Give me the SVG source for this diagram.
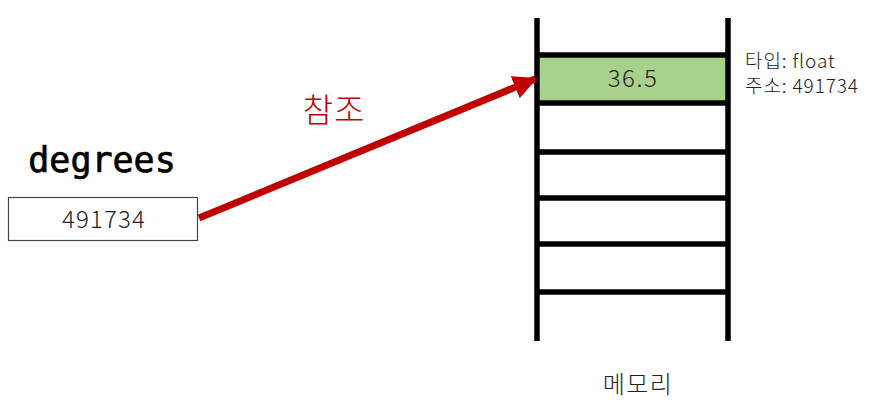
<svg xmlns="http://www.w3.org/2000/svg" width="874" height="412" viewBox="0 0 874 412">
<defs>
<marker id="ah" viewBox="0 0 10 10" refX="9" refY="5" markerWidth="3.4" markerHeight="3.4" orient="auto" markerUnits="strokeWidth">
<path d="M0,0 L10,5 L0,10 z" fill="#c00000"/>
</marker>
<style>
.t{font-family:"Noto Sans CJK KR","Noto Sans",sans-serif;fill:#222;font-weight:300;}
.m{stroke:#000;stroke-width:5.5;fill:none;}
</style>
</defs>
<rect width="874" height="412" fill="#fff"/>
<g id="memory">
<rect x="537" y="57" width="191" height="46" fill="#a9d18e"/>
<line class="m" x1="537" y1="18" x2="537" y2="341"/>
<line class="m" x1="728" y1="18" x2="728" y2="341"/>
<line class="m" x1="537" y1="55" x2="728" y2="55"/>
<line class="m" x1="537" y1="103" x2="728" y2="103"/>
<line class="m" x1="537" y1="152" x2="728" y2="152"/>
<line class="m" x1="537" y1="198" x2="728" y2="198"/>
<line class="m" x1="537" y1="244" x2="728" y2="244"/>
<line class="m" x1="537" y1="292" x2="728" y2="292"/>
<text class="t" x="633" y="87" font-size="24" letter-spacing="1.5" text-anchor="middle">36.5</text>
<text class="t" x="638" y="393" font-size="24" letter-spacing="1.5" text-anchor="middle">메모리</text>
</g>
<g id="info">
<text class="t" x="745" y="68" font-size="19" letter-spacing="0.9">타입: float</text>
<text class="t" x="745" y="93" font-size="19" letter-spacing="0.9">주소: 491734</text>
</g>
<g id="degrees">
<text x="102" y="172" font-family="DejaVu Sans Mono, monospace" font-size="35" text-anchor="middle" fill="#000" stroke="#000" stroke-width="0.7">degrees</text>
<rect x="8.5" y="197.5" width="189" height="43" fill="#fff" stroke="#444" stroke-width="1.2"/>
<text class="t" x="104" y="228" font-size="24" letter-spacing="1.2" text-anchor="middle">491734</text>
</g>
<g id="connectors">
<line x1="199" y1="218" x2="535" y2="79" stroke="#c00000" stroke-width="7" marker-end="url(#ah)"/>
<text class="t" x="334" y="122" font-size="33" letter-spacing="1" text-anchor="middle" style="fill:#c00000">참조</text>
</g>
</svg>
